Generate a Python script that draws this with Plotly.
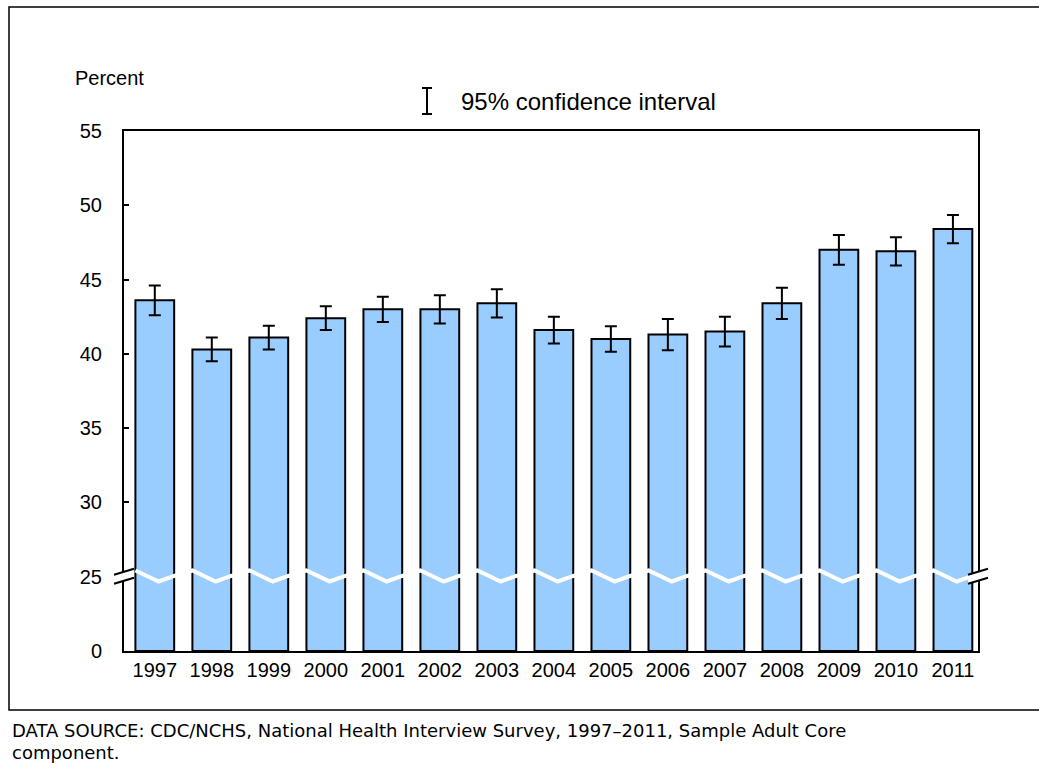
import plotly.graph_objects as go

# ---- data ----
years = ["1997", "1998", "1999", "2000", "2001", "2002", "2003", "2004",
         "2005", "2006", "2007", "2008", "2009", "2010", "2011"]
percent = [43.6, 40.3, 41.1, 42.4, 43.0, 43.0, 43.4, 41.6,
           41.0, 41.3, 41.5, 43.4, 47.0, 46.9, 48.4]
ci_half = [1.0, 0.8, 0.8, 0.8, 0.85, 0.95, 0.95, 0.9,
           0.85, 1.05, 1.0, 1.05, 1.0, 0.95, 0.95]
y_tick_labels = ["0", "25", "30", "35", "40", "45", "50", "55"]

# broken axis: 0 -> 0, 25..55 -> 5..35 (display units)
BREAK_REAL = 25
BREAK_DISP = 5
OFFSET = BREAK_REAL - BREAK_DISP
y_tick_vals = [0] + [BREAK_DISP + 5 * k for k in range(len(y_tick_labels) - 1)]
disp = [v - OFFSET for v in percent]
xs = list(range(len(years)))
BAR_W = 0.68

# plot-area pixel geometry (for paper-referenced decorations)
W, H = 1039, 763
L, R, T, B = 124, 61, 131, 112
PW, PH = W - L - R, H - T - B


def px(x):
    return (x - L) / PW


def py(y):
    return (H - B - y) / PH


fig = go.Figure()
fig.add_trace(go.Bar(
    x=xs, y=disp, width=BAR_W,
    marker=dict(color="#99CCFF", line=dict(color="black", width=2)),
    error_y=dict(type="data", array=ci_half, visible=True,
                 color="black", thickness=2, width=6),
    hoverinfo="skip", showlegend=False,
))

shapes = []
# white zig-zag break across bars
pts = []
for i in xs:
    xl, xr = i - BAR_W / 2, i + BAR_W / 2
    pts += [(xl, BREAK_DISP + 0.42), (xl + 0.6 * BAR_W, BREAK_DISP - 0.32),
            (xr, BREAK_DISP + 0.05)]
path = "M " + " L ".join(f"{x},{y}" for x, y in pts)
shapes.append(dict(type="path", path=path, xref="x", yref="y",
                   line=dict(color="white", width=4), layer="above"))

# double-slash break marks on both vertical axis lines
for anchor in (0, 1):
    common = dict(xref="x domain", yref="y", xsizemode="pixel", ysizemode="pixel",
                  xanchor=anchor, yanchor=BREAK_DISP, layer="above")
    shapes.append(dict(type="path", path="M -10,2 L 10,8 L 10,-1 L -10,-7 Z",
                       fillcolor="white", line=dict(width=0), **common))
    shapes.append(dict(type="line", x0=-10, y0=2, x1=10, y1=8,
                       line=dict(color="black", width=2), **common))
    shapes.append(dict(type="line", x0=-10, y0=-7, x1=10, y1=-1,
                       line=dict(color="black", width=2), **common))

# legend glyph (confidence interval)
gx, gt, gb = 427, 88, 114
for (x0, y0, x1, y1) in [(gx, gt, gx, gb), (gx - 5, gt, gx + 5, gt),
                         (gx - 5, gb, gx + 5, gb)]:
    shapes.append(dict(type="line", xref="paper", yref="paper",
                       x0=px(x0), y0=py(y0), x1=px(x1), y1=py(y1),
                       line=dict(color="black", width=2)))

# outer frame
shapes.append(dict(type="rect", xref="paper", yref="paper",
                   x0=px(9), y0=py(710), x1=px(W + 10), y1=py(7),
                   line=dict(color="black", width=1.5), layer="below"))

annotations = [
    dict(text="Percent", x=px(73), y=py(78), xref="paper", yref="paper",
         xanchor="left", yanchor="middle", showarrow=False,
         font=dict(size=20, color="black")),
    dict(text="95% confidence interval", x=px(459), y=py(102), xref="paper",
         yref="paper", xanchor="left", yanchor="middle", showarrow=False,
         font=dict(size=24, color="black")),
    dict(text="DATA SOURCE: CDC/NCHS, National Health Interview Survey, 1997\u20132011, Sample Adult Core",
         x=px(10), y=py(730), xref="paper", yref="paper", xanchor="left",
         yanchor="middle", showarrow=False,
         font=dict(size=18, color="black", family="DejaVu Sans")),
    dict(text="component.", x=px(10), y=py(752), xref="paper", yref="paper",
         xanchor="left", yanchor="middle", showarrow=False,
         font=dict(size=18, color="black", family="DejaVu Sans")),
]

fig.update_layout(
    width=W, height=H,
    margin=dict(l=L, r=R, t=T, b=B, pad=0),
    paper_bgcolor="white", plot_bgcolor="white",
    font=dict(family="Liberation Sans, Arial, sans-serif", size=20, color="black"),
    shapes=shapes, annotations=annotations,
    bargap=0.32,
)
fig.update_xaxes(
    range=[-0.54, 14.44], tickmode="array", tickvals=xs, ticktext=years,
    showline=True, linecolor="black", linewidth=2, mirror=True,
    ticks="", showgrid=False, zeroline=False, fixedrange=True,
    tickfont=dict(size=20),
)
fig.update_yaxes(
    range=[0, 35], tickmode="array", tickvals=y_tick_vals, ticktext=y_tick_labels,
    showline=True, linecolor="black", linewidth=2, mirror=True,
    ticks="inside", ticklen=5, tickwidth=2, tickcolor="black",
    showgrid=False, zeroline=False, fixedrange=True,
    tickfont=dict(size=20), ticklabelstandoff=16,
)

fig.write_html(
    "out.html",
    config={"displayModeBar": False},
    post_script="document.body.style.margin='0';document.body.style.overflow='hidden';",
)
